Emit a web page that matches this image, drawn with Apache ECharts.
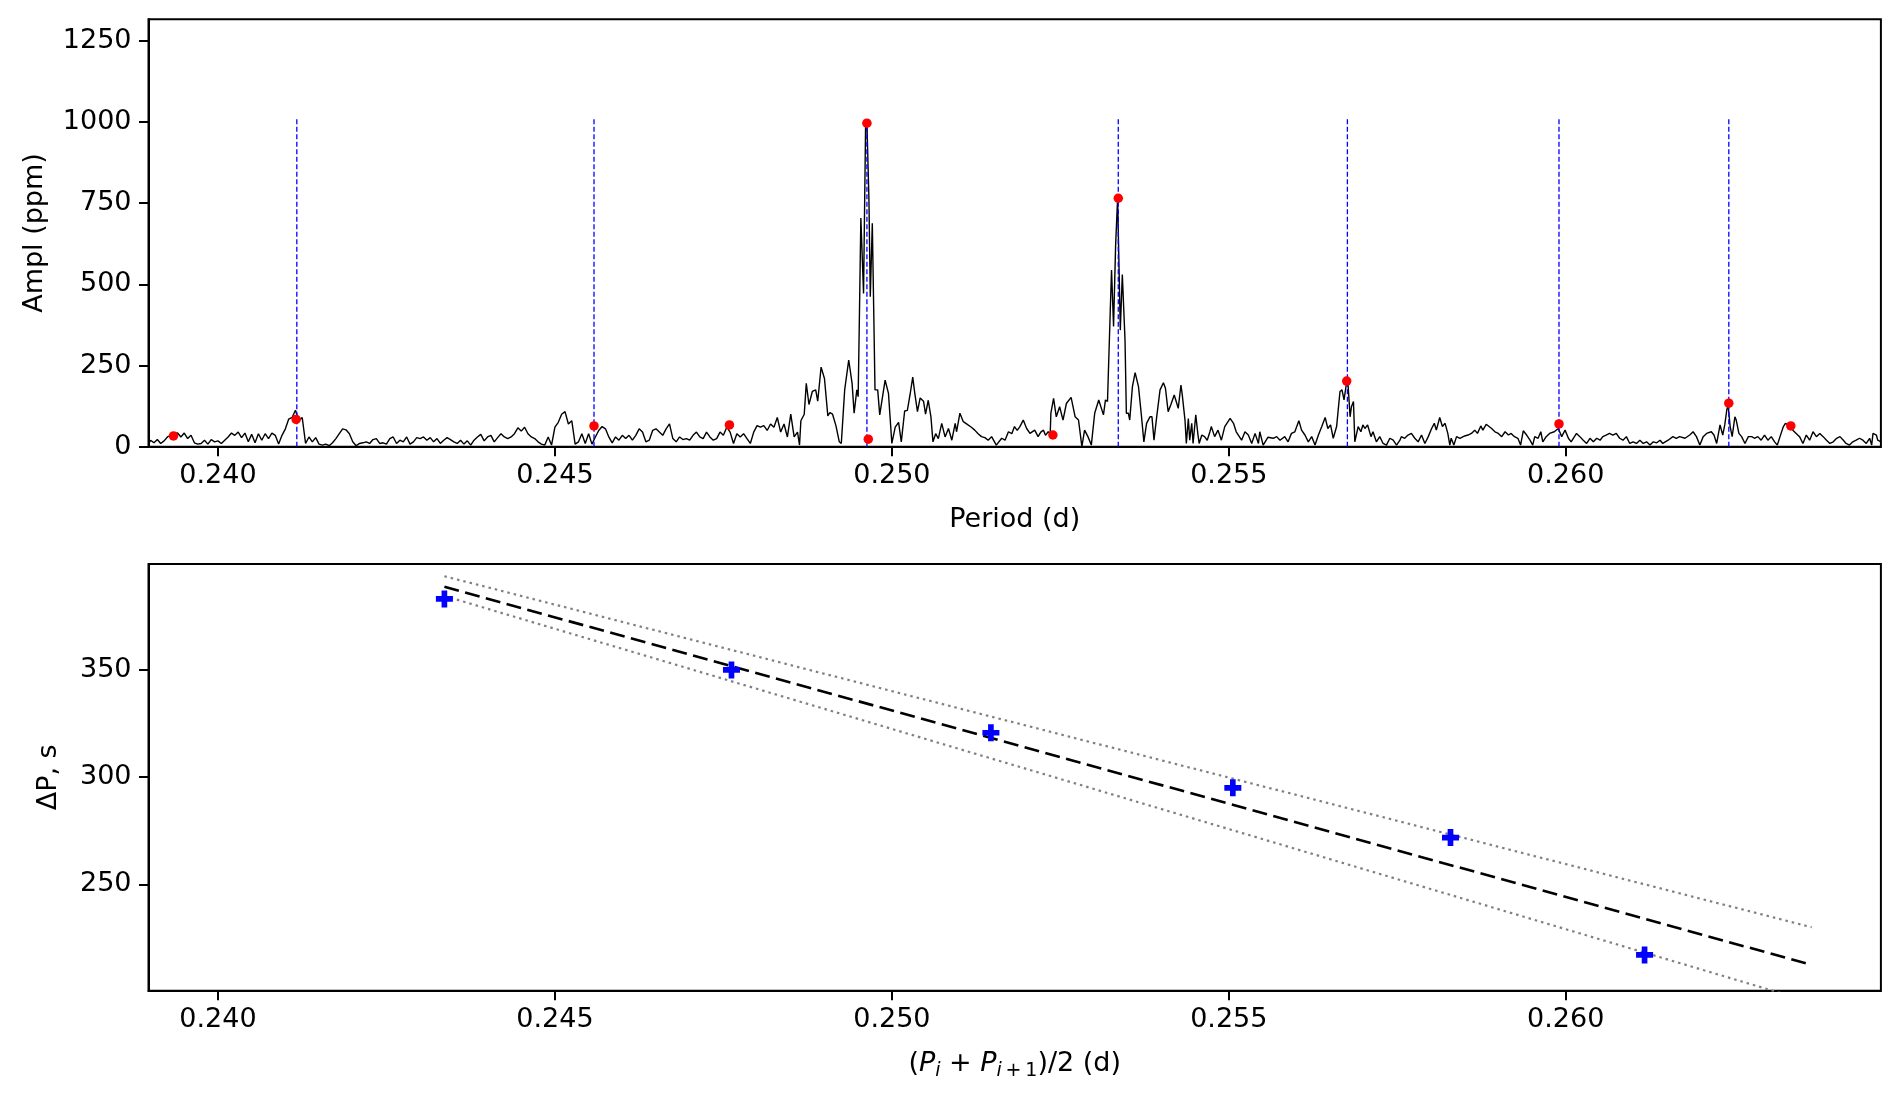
<!DOCTYPE html>
<html><head><meta charset="utf-8">
<script src="https://cdn.jsdelivr.net/npm/echarts@6/dist/echarts.min.js"></script>
<style>html,body{margin:0;padding:0;background:#fff}#c{width:1899px;height:1100px}</style>
</head><body><div id="c"></div>
<script>
// ---- Periodogram (period in d, amplitude in ppm) ----
const spectrum = [
[0.23897,8],[0.23900,20],[0.23905,12],[0.23910,22],[0.23915,10],[0.23920,18],[0.23925,30],[0.23930,35],[0.23935,40],[0.23940,42],[0.23945,30],[0.23950,42],[0.23955,25],[0.23960,35],[0.23965,12],[0.23970,8],[0.23975,10],[0.23980,20],[0.23985,8],[0.23990,22],[0.23995,15],[0.24000,18],[0.24005,10],[0.24010,20],[0.24015,30],[0.24020,42],[0.24025,35],[0.24030,45],[0.24035,28],[0.24040,42],[0.24045,15],[0.24050,38],[0.24055,12],[0.24060,40],[0.24065,20],[0.24070,40],[0.24075,25],[0.24080,42],[0.24085,35],[0.24090,8],[0.24095,35],[0.24100,55],[0.24105,85],[0.24110,90],[0.24115,112],[0.24120,80],[0.24125,90],[0.24130,10],[0.24135,30],[0.24140,15],[0.24145,28],[0.24150,8],[0.24155,5],[0.24160,8],[0.24165,3],[0.24170,12],[0.24175,25],[0.24180,40],[0.24185,55],[0.24190,52],[0.24195,40],[0.24200,15],[0.24205,3],[0.24210,10],[0.24215,12],[0.24220,15],[0.24225,10],[0.24230,22],[0.24235,25],[0.24240,10],[0.24245,12],[0.24250,8],[0.24255,25],[0.24260,30],[0.24265,10],[0.24270,20],
[0.24275,15],[0.24280,30],[0.24285,8],[0.24290,15],[0.24295,28],[0.24300,25],[0.24305,30],[0.24310,20],[0.24315,28],[0.24320,15],[0.24325,25],[0.24330,10],[0.24335,20],[0.24340,28],[0.24345,22],[0.24350,15],[0.24355,10],[0.24360,20],[0.24365,8],[0.24370,18],[0.24375,5],[0.24380,20],[0.24385,30],[0.24390,38],[0.24395,18],[0.24400,30],[0.24405,35],[0.24410,15],[0.24415,28],[0.24420,40],[0.24425,30],[0.24430,25],[0.24435,30],[0.24440,40],[0.24445,58],[0.24450,48],[0.24455,60],[0.24460,40],[0.24465,30],[0.24470,25],[0.24475,15],[0.24480,8],[0.24485,5],[0.24490,30],[0.24495,5],[0.24500,60],[0.24505,75],[0.24510,100],[0.24515,108],[0.24520,70],[0.24525,80],[0.24530,8],[0.24535,15],[0.24540,40],[0.24545,10],[0.24550,40],[0.24555,8],[0.24560,30],[0.24565,50],[0.24570,62],[0.24575,55],[0.24580,30],[0.24585,12],[0.24590,30],[0.24595,20],[0.24600,35],[0.24605,25],[0.24610,35],[0.24615,20],[0.24620,35],[0.24625,55],[0.24630,45],[0.24635,15],
[0.24640,20],[0.24645,50],[0.24650,55],[0.24655,45],[0.24660,35],[0.24665,55],[0.24670,70],[0.24675,25],[0.24680,15],[0.24685,30],[0.24690,22],[0.24695,25],[0.24700,20],[0.24705,35],[0.24710,45],[0.24715,30],[0.24720,25],[0.24725,45],[0.24730,30],[0.24735,20],[0.24740,25],[0.24745,45],[0.24750,35],[0.24755,60],[0.24760,45],[0.24765,10],[0.24770,40],[0.24775,30],[0.24780,40],[0.24785,25],[0.24790,10],[0.24795,45],[0.24800,65],[0.24805,60],[0.24810,65],[0.24815,50],[0.24820,70],[0.24825,60],[0.24830,90],[0.24835,45],[0.24840,70],[0.24845,30],[0.24850,100],[0.24855,30],[0.24860,45],[0.24863,5],[0.24865,80],[0.24870,100],[0.24873,195],[0.24877,130],[0.24882,170],[0.24887,175],[0.24890,140],[0.24895,245],[0.24900,210],[0.24905,95],[0.24908,105],[0.24912,100],[0.24917,65],[0.24922,15],[0.24925,10],[0.24930,175],[0.24936,267],[0.24941,195],[0.24944,103],[0.24948,175],[0.24950,154],[0.24952,420],[0.24954,704],[0.24958,472],[0.24961,985],[0.24963,998],[0.24966,760],[0.24968,462],[0.24971,688],[0.24975,175],[0.24979,175],[0.24982,98],[0.24990,205],[0.24995,164],[0.25000,10],
[0.25005,60],[0.25010,75],[0.25014,15],[0.25019,110],[0.25023,112],[0.25027,160],[0.25031,214],[0.25034,165],[0.25038,108],[0.25042,150],[0.25047,140],[0.25050,100],[0.25054,143],[0.25058,92],[0.25061,15],[0.25065,40],[0.25069,25],[0.25074,72],[0.25079,30],[0.25084,56],[0.25089,20],[0.25094,72],[0.25096,46],[0.25101,103],[0.25106,77],[0.25113,67],[0.25118,60],[0.25123,51],[0.25128,40],[0.25133,31],[0.25138,28],[0.25143,20],[0.25148,31],[0.25155,5],[0.25163,26],[0.25168,20],[0.25173,46],[0.25178,40],[0.25182,62],[0.25186,50],[0.25190,62],[0.25195,82],[0.25200,56],[0.25205,41],[0.25212,51],[0.25217,31],[0.25221,45],[0.25225,51],[0.25228,35],[0.25232,46],[0.25235,40],[0.25236,103],[0.25240,149],[0.25244,92],[0.25249,123],[0.25254,82],[0.25259,133],[0.25266,152],[0.25272,92],[0.25277,82],[0.25282,0],[0.25286,51],[0.25291,31],[0.25296,5],[0.25301,103],[0.25307,144],[0.25314,98],[0.25317,144],[0.25320,139],[0.25324,411],[0.25326,544],[0.25329,370],[0.25332,616],[0.25335,765],[0.25337,565],[0.25339,359],[0.25342,530],[0.25346,329],[0.25348,103],[0.25351,103],[0.25353,82],[0.25357,185],[0.25361,228],[0.25366,185],[0.25370,103],[0.25374,15],[0.25378,72],[0.25383,92],[0.25386,92],[0.25389,20],
[0.25393,92],[0.25398,175],[0.25403,197],[0.25406,180],[0.25410,108],[0.25414,129],[0.25419,159],[0.25422,139],[0.25425,118],[0.25429,190],[0.25431,159],[0.25435,82],[0.25437,10],[0.25440,87],[0.25442,20],[0.25445,72],[0.25447,10],[0.25451,98],[0.25454,41],[0.25456,10],[0.25460,36],[0.25464,31],[0.25468,20],[0.25472,46],[0.25474,62],[0.25479,31],[0.25484,51],[0.25489,20],[0.25494,62],[0.25502,87],[0.25507,72],[0.25511,46],[0.25519,20],[0.25524,46],[0.25529,36],[0.25534,10],[0.25539,41],[0.25544,10],[0.25546,46],[0.25551,5],[0.25558,29],[0.25566,26],[0.25571,31],[0.25576,20],[0.25583,31],[0.25588,15],[0.25593,41],[0.25598,46],[0.25604,80],[0.25608,51],[0.25613,36],[0.25618,15],[0.25623,31],[0.25628,5],[0.25633,36],[0.25638,62],[0.25643,90],[0.25647,56],[0.25651,67],[0.25655,26],[0.25660,62],[0.25665,170],[0.25668,175],[0.25671,144],[0.25675,200],[0.25677,190],[0.25680,92],[0.25682,123],[0.25685,139],[0.25687,15],[0.25692,62],[0.25696,46],[0.25699,67],[0.25702,56],[0.25706,67],[0.25711,31],[0.25714,46],[0.25719,15],[0.25724,31],[0.25729,10],[0.25734,5],[0.25739,26],[0.25744,20],[0.25749,5],[0.25754,20],
[0.25756,31],[0.25761,26],[0.25766,36],[0.25771,41],[0.25776,26],[0.25781,15],[0.25786,36],[0.25791,10],[0.25796,31],[0.25801,56],[0.25805,72],[0.25808,51],[0.25813,90],[0.25817,62],[0.25821,72],[0.25825,41],[0.25828,5],[0.25830,26],[0.25834,5],[0.25838,31],[0.25843,26],[0.25850,33],[0.25855,36],[0.25860,41],[0.25865,51],[0.25869,41],[0.25874,64],[0.25877,51],[0.25882,69],[0.25890,56],[0.25895,46],[0.25900,41],[0.25905,31],[0.25910,46],[0.25915,36],[0.25919,41],[0.25924,31],[0.25929,26],[0.25933,5],[0.25937,49],[0.25942,36],[0.25947,20],[0.25951,5],[0.25954,31],[0.25959,26],[0.25963,46],[0.25966,15],[0.25971,31],[0.25976,41],[0.25983,46],[0.25989,56],[0.25991,62],[0.25994,31],[0.25999,51],[0.26004,26],[0.26008,15],[0.26016,41],[0.26021,31],[0.26026,20],[0.26031,10],[0.26036,26],[0.26041,15],[0.26046,26],[0.26051,20],[0.26055,31],[0.26060,36],[0.26065,41],[0.26070,36],[0.26075,41],[0.26080,26],[0.26085,20],[0.26090,31],[0.26095,10],[0.26100,15],[0.26105,10],[0.26110,20],[0.26115,10],[0.26120,15],[0.26125,5],[0.26130,15],
[0.26135,12],[0.26140,20],[0.26144,10],[0.26152,20],[0.26159,31],[0.26164,26],[0.26169,31],[0.26177,26],[0.26184,36],[0.26189,46],[0.26194,31],[0.26199,5],[0.26204,31],[0.26209,41],[0.26216,46],[0.26220,36],[0.26224,10],[0.26229,67],[0.26233,36],[0.26236,67],[0.26239,113],[0.26241,128],[0.26244,62],[0.26247,31],[0.26251,92],[0.26253,82],[0.26257,41],[0.26261,31],[0.26266,10],[0.26271,31],[0.26276,31],[0.26280,26],[0.26285,31],[0.26290,20],[0.26295,36],[0.26300,20],[0.26305,31],[0.26310,15],[0.26314,5],[0.26318,31],[0.26323,62],[0.26326,72],[0.26330,67],[0.26337,51],[0.26342,41],[0.26347,31],[0.26352,10],[0.26357,36],[0.26362,20],[0.26367,46],[0.26372,31],[0.26377,41],[0.26382,31],[0.26387,20],[0.26392,10],[0.26397,15],[0.26402,26],[0.26407,31],[0.26412,20],[0.26416,10],[0.26421,5],[0.26426,15],[0.26431,20],[0.26436,26],[0.26441,20],[0.26446,10],[0.26451,26],[0.26454,5],[0.26456,41],[0.26461,36],[0.26463,20],[0.26468,15]
];

// ---- Detected peaks (red dots) ----
const peakPeriods = [0.23934, 0.24116, 0.24558, 0.24759, 0.24963, 0.24965, 0.25239, 0.25336, 0.25675, 0.25990, 0.26242, 0.26334];
const peakAmpl    = [33, 84, 64, 67, 996, 23, 36, 765, 202, 70, 134, 64];

// ---- Selected mode periods (blue dashed verticals) ----
const modePeriods = [0.24117, 0.24558, 0.24963, 0.25336, 0.25676, 0.25990, 0.26242];
const modeLineTop = 1010;

// ---- Period spacing (lower panel) ----
const meanPeriods = [0.24336, 0.24762, 0.25147, 0.25506, 0.25829, 0.26117];
const periodSpacing = [383.1, 350.0, 320.7, 295.0, 271.8, 217.1];

// ---- Linear fit and its bounds (end points) ----
const fitPeriods = [0.24336, 0.26365];
const fitBest  = [388.8, 212.4];
const fitUpper = [393.7, 230.0];
const fitLower = [384.5, 195.0];

// ---- Axis ticks ----
const periodTicks = [0.240, 0.245, 0.250, 0.255, 0.260];
const amplTicks = [0, 250, 500, 750, 1000, 1250];
const spacingTicks = [250, 300, 350];

const FONT = 'DejaVu Sans';
const FS = 27;

function xAxis(gridIndex, name, gap, nameStyle) {
  return {
    type: 'value', gridIndex, min: 0.238969, max: 0.264677,
    axisLine: { show: true, onZero: false, lineStyle: { color: '#000', width: 2 } },
    axisTick: { show: true, customValues: periodTicks, length: 9.5, lineStyle: { color: '#000', width: 2 } },
    axisLabel: { customValues: periodTicks, formatter: v => v.toFixed(3), color: '#000', fontSize: FS, fontFamily: FONT, margin: 16 },
    splitLine: { show: false },
    name, nameLocation: 'middle', nameGap: gap,
    nameTextStyle: Object.assign({ color: '#000', fontSize: FS, fontFamily: FONT }, nameStyle || {})
  };
}
function yAxis(gridIndex, min, max, ticks, name, gap) {
  return {
    type: 'value', gridIndex, min, max,
    axisLine: { show: true, onZero: false, lineStyle: { color: '#000', width: 2 } },
    axisTick: { show: true, customValues: ticks, length: 9.5, lineStyle: { color: '#000', width: 2 } },
    axisLabel: { customValues: ticks, formatter: v => String(v), color: '#000', fontSize: FS, fontFamily: FONT, margin: 17 },
    splitLine: { show: false },
    name, nameLocation: 'middle', nameGap: gap, nameRotate: 90,
    nameTextStyle: { color: '#000', fontSize: FS, fontFamily: FONT }
  };
}

const plusPath = 'path://M2,0H4V2H6V4H4V6H2V4H0V2H2Z';
const subPad = [14, 0, 0, 0];

const series = [
  { type: 'line', xAxisIndex: 0, yAxisIndex: 0, data: spectrum, showSymbol: false, symbol: 'none',
    lineStyle: { color: '#000', width: 1.4 }, z: 2 }
].concat(modePeriods.map(p => ({
  type: 'line', xAxisIndex: 0, yAxisIndex: 0, data: [[p, 0], [p, modeLineTop]], symbol: 'none',
  lineStyle: { color: '#0000ff', width: 1.3, type: [5, 2.5] }, z: 3
}))).concat([
  { type: 'scatter', xAxisIndex: 0, yAxisIndex: 0, data: peakPeriods.map((p, i) => [p, peakAmpl[i]]),
    symbol: 'circle', symbolSize: 9.5, itemStyle: { color: '#ff0000', opacity: 1 }, z: 4 },
  { type: 'line', xAxisIndex: 1, yAxisIndex: 1, data: fitPeriods.map((p, i) => [p, fitUpper[i]]), symbol: 'none',
    lineStyle: { color: '#808080', width: 2.2, type: [2.5, 4] }, z: 2 },
  { type: 'line', xAxisIndex: 1, yAxisIndex: 1, data: fitPeriods.map((p, i) => [p, fitLower[i]]), symbol: 'none',
    lineStyle: { color: '#808080', width: 2.2, type: [2.5, 4] }, z: 2 },
  { type: 'line', xAxisIndex: 1, yAxisIndex: 1, data: fitPeriods.map((p, i) => [p, fitBest[i]]), symbol: 'none',
    lineStyle: { color: '#000', width: 2.6, type: [15, 6.5] }, z: 3 },
  { type: 'scatter', xAxisIndex: 1, yAxisIndex: 1, data: meanPeriods.map((p, i) => [p, periodSpacing[i]]),
    symbol: plusPath, symbolSize: 17, itemStyle: { color: '#0000ff', opacity: 1 }, z: 4 }
]);

const chart = echarts.init(document.getElementById('c'), null, { renderer: 'canvas' });
chart.setOption({
  animation: false,
  backgroundColor: '#fff',
  grid: [
    { left: 148.5, right: 18.1, top: 19.3, height: 427.4, show: true, borderColor: '#000', borderWidth: 2, backgroundColor: 'transparent' },
    { left: 148.5, right: 18.1, top: 564, height: 426.7, show: true, borderColor: '#000', borderWidth: 2, backgroundColor: 'transparent' }
  ],
  xAxis: [
    xAxis(0, 'Period (d)', 60),
    xAxis(1, '{t|(}{it|P}{si|i}{t| + }{it|P}{si|i}{sn|\u2009+\u20091}{t|)/2 (d)}', 57, {
      rich: {
        t: { fontSize: FS, fontFamily: FONT, color: '#000' },
        it: { fontSize: FS, fontFamily: FONT, fontStyle: 'italic', color: '#000' },
        si: { fontSize: 19, fontFamily: FONT, fontStyle: 'italic', color: '#000', padding: subPad },
        sn: { fontSize: 19, fontFamily: FONT, color: '#000', padding: subPad }
      }
    })
  ],
  yAxis: [
    yAxis(0, 0, 1316, amplTicks, 'Ampl (ppm)', 100),
    yAxis(1, 200.4, 399.4, spacingTicks, 'ΔP, s', 86)
  ],
  series
});
</script>
</body></html>
